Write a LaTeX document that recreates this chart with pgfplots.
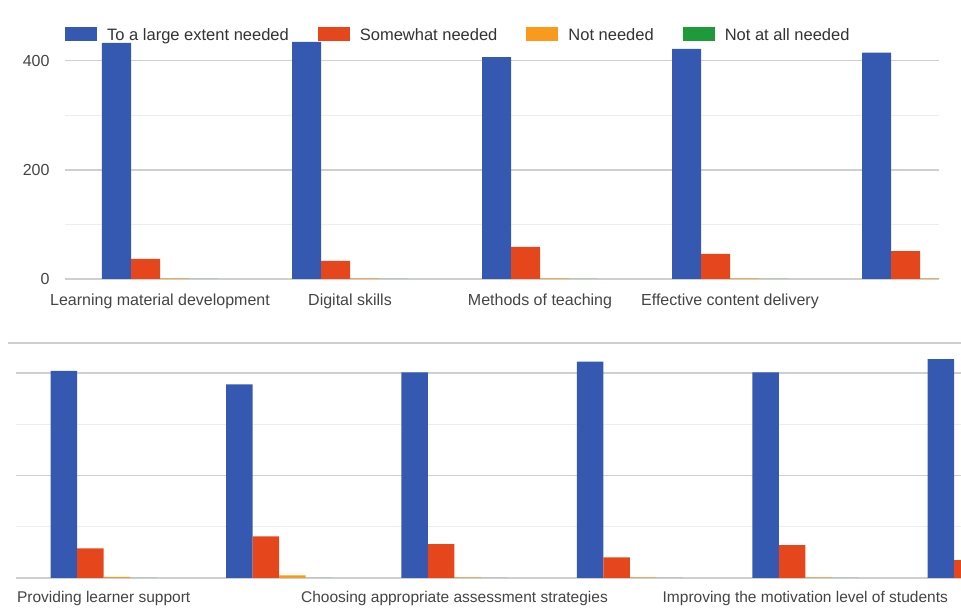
\documentclass[border=0pt]{standalone}
\usepackage{pgfplots}
\pgfplotsset{compat=1.18}
\usepackage{fontspec}
\setmainfont{Liberation Sans}

\definecolor{cBlue}{HTML}{3558B0}
\definecolor{cRed}{HTML}{E6461C}
\definecolor{cOrange}{HTML}{F99A1C}
\definecolor{cGreen}{HTML}{1E9A3A}
\definecolor{gridMajor}{HTML}{CFCFCF}
\definecolor{gridMinor}{HTML}{EDEDED}
\definecolor{baseLine}{HTML}{7A7A7A}
\definecolor{labelGray}{HTML}{444444}

% Responses per training need: large extent / somewhat / not needed / not at all
\pgfplotstableread{
x large some notn notall
0 433 37 1 0
1 435 33 1 0
2 407 59 1 0
3 422 46 1 0
4 415 51 1 0
}\topdata
\pgfplotstableread{
x large some notn notall
0 404 58 2 0
1 378 81 5 0
2 401 66 1 0
3 422 40 1 0
4 401 64 1 0
5 427 35 1 0
}\bottomdata

\pgfplotsset{
  needs/.style={
    scale only axis,
    ybar=0pt,
    axis line style={draw=none},
    major tick style={draw=none},
    minor tick style={draw=none},
    ymin=0,
    ymajorgrids, yminorgrids,
    major grid style={gridMajor, line width=1.2pt},
    minor grid style={gridMinor, line width=1pt},
    extra y ticks={0},
    extra y tick style={grid style={baseLine, line width=1.8pt}},
    xtick=data,
    /pgf/number format/assume math mode=true,
    tick label style={font=\fontsize{16}{19}\selectfont, text=labelGray},
    xticklabel style={anchor=north, yshift=-7pt},
    yticklabel style={anchor=east, xshift=-12pt},
    every axis plot/.append style={draw=none},
    legend image code/.code={\fill[##1] (0pt,-6pt) rectangle (32pt,8pt);},
  },
}

\begin{document}
\begin{tikzpicture}
\path[use as bounding box] (0pt,0pt) rectangle (961pt,612pt);

% upper panel
\begin{axis}[needs,
  at={(65pt,333pt)}, anchor=south west,
  width=874pt, height=259pt,
  bar width=29pt,
  xmin=-0.5, xmax=4.1,
  ymax=475,
  ytick={200,400}, minor ytick={100,300},
  xticklabels={Learning material development, Digital skills, Methods of teaching, Effective content delivery, {}},
  legend columns=4,
  legend style={draw=none, fill=none, at={(axis description cs:0,0.942)}, anchor=west,
    inner xsep=0pt, inner ysep=0pt,
    font=\fontsize{16.5}{19}\selectfont, text=black!80,
    /tikz/every odd column/.append style={column sep=8pt},
    /tikz/every even column/.append style={column sep=27pt}},
]
\addplot[fill=cBlue] table[x=x, y=large] {\topdata};
\addplot[fill=cRed] table[x=x, y=some] {\topdata};
\addplot[fill=cOrange] table[x=x, y=notn] {\topdata};
\addplot[fill=cGreen] table[x=x, y=notall] {\topdata};
\legend{To a large extent needed, Somewhat needed, Not needed, Not at all needed}
\end{axis}

% lower panel
\draw[gridMajor, line width=1.2pt] (8pt,269pt) -- (961pt,269pt);
\begin{axis}[needs,
  at={(16pt,34pt)}, anchor=south west,
  width=945pt, height=235pt,
  bar width=26.5pt,
  xmin=-0.5, xmax=4.888,
  ymax=458.5,
  ytick={200,400}, minor ytick={100,300},
  yticklabels={}, extra y tick labels={},
  tick label style={font=\fontsize{15.5}{18}\selectfont},
  xticklabel style={yshift=2pt},
  xticklabels={Providing learner support, {}, Choosing appropriate assessment strategies, {}, Improving the motivation level of students, {}},
]
\addplot[fill=cBlue] table[x=x, y=large] {\bottomdata};
\addplot[fill=cRed] table[x=x, y=some] {\bottomdata};
\addplot[fill=cOrange] table[x=x, y=notn] {\bottomdata};
\addplot[fill=cGreen] table[x=x, y=notall] {\bottomdata};
\end{axis}
\end{tikzpicture}
\end{document}
